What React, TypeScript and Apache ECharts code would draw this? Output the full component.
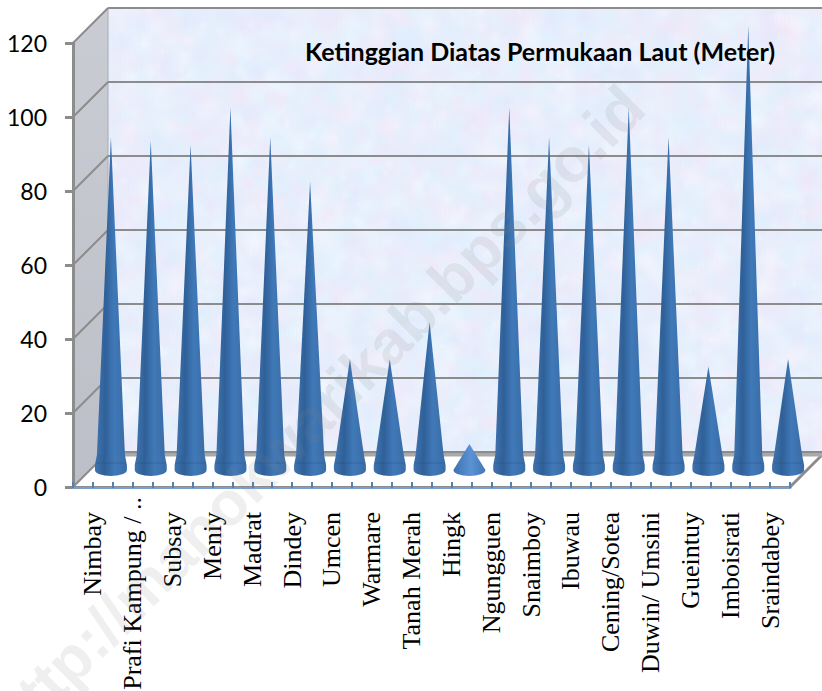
import React, { useEffect, useRef } from "react";
import * as echarts from "echarts";

const categories = ["Nimbay", "Prafi Kampung / ..", "Subsay", "Meniy", "Madrat", "Dindey", "Umcen", "Warmare", "Tanah Merah", "Hingk", "Ngungguen", "Snaimboy", "Ibuwau", "Cening/Sotea", "Duwin/ Umsini", "Gueintuy", "Imboisrati", "Sraindabey"];
const heights = [90, 89, 88, 98, 90, 78, 30, 30, 40, 7, 98, 90, 88, 98, 90, 28, 120, 30];
const yTicks = [0, 20, 40, 60, 80, 100, 120];
const titleText = "Ketinggian Diatas Permukaan Laut (Meter)";
const watermark = "http://manokwarikab.bps.go.id";

const DEPTH = 35;

function makeTexture(w: number, h: number): string {
  const c = document.createElement("canvas");
  c.width = w; c.height = h;
  const g = c.getContext("2d")!;
  g.fillStyle = "#e8f0fc";
  g.fillRect(0, 0, w, h);
  let s = 12345;
  const r = () => { s = (s * 1103515245 + 12345) & 0x7fffffff; return s / 0x7fffffff; };
  const cols = ["248,228,246", "218,244,252", "248,251,255", "232,228,250", "220,234,250"];
  for (let i = 0; i < 5000; i++) {
    const x = r() * w, y = r() * h, rad = 3 + r() * 15;
    const col = cols[Math.floor(r() * cols.length)];
    const gr = g.createRadialGradient(x, y, 0, x, y, rad);
    gr.addColorStop(0, `rgba(${col},0.3)`);
    gr.addColorStop(1, `rgba(${col},0)`);
    g.fillStyle = gr;
    g.fillRect(x - rad, y - rad, rad * 2, rad * 2);
  }
  return c.toDataURL("image/png");
}

export default function App() {
  const ref = useRef<HTMLDivElement>(null);
  useEffect(() => {
    const chart = echarts.init(ref.current!, undefined, { renderer: "svg" });
    const texture = makeTexture(717, 444);
    const coneGradient = {
      type: "linear", x: 0, y: 0, x2: 1, y2: 0,
      colorStops: [
        { offset: 0, color: "#3f72ad" },
        { offset: 0.3, color: "#2f6098" },
        { offset: 0.62, color: "#4079b8" },
        { offset: 1, color: "#3a6ca6" },
      ],
    };
    const lightGradient = {
      type: "linear", x: 0, y: 0, x2: 1, y2: 0,
      colorStops: [
        { offset: 0, color: "#3e72b0" },
        { offset: 0.55, color: "#5a92d4" },
        { offset: 1, color: "#4477b5" },
      ],
    };
    chart.setOption({
      animation: false,
      backgroundColor: "#ffffff",
      title: {
        text: titleText, left: 300, top: 33,
        textStyle: { fontFamily: "Lato", fontWeight: "bold", fontSize: 25, color: "#000" },
      },
      grid: { left: 73, right: 32, top: 43, bottom: 204, outerBoundsMode: "none" },
      xAxis: [
        {
          type: "category",
          data: categories.map((c) => (c.endsWith("..") ? { value: c, textStyle: { padding: [0, -15, 0, 0] } } : c)),
          position: "bottom",
          axisLine: { lineStyle: { color: "#8c8c8c", width: 3 } },
          axisTick: { show: false },
          axisLabel: {
            interval: 0, rotate: 90, margin: 25, fontFamily: "Liberation Serif", fontSize: 26, color: "#000",
            hideOverlap: false,
          },
          splitLine: { show: false },
          z: 3,
        },
        {
          type: "value", min: 0, max: 36, interval: 1, position: "bottom", offset: 1,
          axisLine: { show: true, lineStyle: { color: "#7aa0d0", width: 2 } },
          axisTick: { show: true, inside: true, length: 6, lineStyle: { color: "#4f81bd", width: 2 } },
          axisLabel: { show: false },
          splitLine: { show: false },
          z: 4,
        },
      ],
      yAxis: {
        type: "value", min: 0, max: 120, interval: 20,
        axisLine: { show: true, lineStyle: { color: "#8c8c8c", width: 3 } },
        axisTick: { show: true, length: 8, lineStyle: { color: "#8c8c8c", width: 3 } },
        axisLabel: { margin: 26, fontFamily: "Lato", fontSize: 23, color: "#000" },
        splitLine: { show: false },
      },
      series: [
        {
          type: "custom", name: "walls", z: 0, silent: true, clip: false,
          coordinateSystem: "cartesian2d", data: [0],
          renderItem: (params: any) => {
            const { x, y, width, height } = params.coordSys;
            const l = x, r = x + width, t = y, b = y + height;
            return {
              type: "group",
              children: [
                { type: "polygon", shape: { points: [[l, t], [l + DEPTH, t - DEPTH], [l + DEPTH, b - DEPTH], [l, b]] },
                  style: { fill: { type: "linear", x: 0, y: 0, x2: 0, y2: 1, colorStops: [{ offset: 0, color: "#c9ccd3" }, { offset: 1, color: "#bcbfc7" }] } } },
                { type: "image", style: { image: texture, x: l + DEPTH, y: t - DEPTH, width, height } },
                { type: "polygon", shape: { points: [[l, b], [l + DEPTH, b - DEPTH], [r + DEPTH, b - DEPTH], [r, b]] }, style: { fill: "#ffffff" } },
                { type: "line", shape: { x1: r, y1: b, x2: r + DEPTH, y2: b - DEPTH }, style: { stroke: "#8c8c8c", lineWidth: 3 } },
                { type: "line", shape: { x1: l + DEPTH, y1: t - DEPTH, x2: l + DEPTH, y2: b - DEPTH }, style: { stroke: "#a8acb4", lineWidth: 1 } },
                { type: "line", shape: { x1: l + DEPTH, y1: b - DEPTH + 2, x2: r + DEPTH, y2: b - DEPTH + 2 }, style: { stroke: "#a9a9a9", lineWidth: 5 } },
              ],
            };
          },
        },
        {
          type: "custom", name: "gridlines", z: 1, silent: true, clip: false,
          coordinateSystem: "cartesian2d", data: yTicks.map((t) => [0, t]),
          encode: { x: 0, y: 1 },
          renderItem: (params: any, api: any) => {
            const { x, width } = params.coordSys;
            const yy = api.coord([0, api.value(1)])[1];
            const s = { stroke: "#8c8c8c", lineWidth: 2 };
            return {
              type: "group",
              children: [
                { type: "line", shape: { x1: x, y1: yy, x2: x + DEPTH, y2: yy - DEPTH }, style: s },
                { type: "line", shape: { x1: x + DEPTH, y1: yy - DEPTH, x2: x + width + DEPTH, y2: yy - DEPTH }, style: s },
              ],
            };
          },
        },
        {
          type: "custom", name: "cones", z: 2, clip: false,
          coordinateSystem: "cartesian2d",
          data: heights.map((h, i) => [i, h]),
          encode: { x: 0, y: 1 },
          renderItem: (_params: any, api: any) => {
            const base = api.coord([api.value(0), 0]);
            const tip = api.coord([api.value(0), api.value(1)]);
            const cx = base[0] + 18;
            const by = base[1] - 17;
            const ty = tip[1] - 17;
            const rx = 16, ry = 6, neck = 14;
            if (by - ty < 60) {
              const d = `M${cx},${ty} L${cx + rx},${by} A${rx},${ry} 0 0 1 ${cx - rx},${by} Z`;
              return { type: "path", shape: { pathData: d, layout: "cover", x: cx - rx, y: ty, width: rx * 2, height: by + ry - ty }, style: { fill: lightGradient } };
            }
            const sy = by - 15;
            const cone = { type: "polygon", shape: { points: [[cx, ty], [cx + neck, sy], [cx - neck, sy]] }, style: { fill: coneGradient } };
            const sk = `M${cx - neck},${sy} L${cx - rx},${by - 5} L${cx - rx},${by} A${rx},${ry} 0 0 0 ${cx + rx},${by} L${cx + rx},${by - 5} L${cx + neck},${sy} Z`;
            const skirt = { type: "path", shape: { pathData: sk, layout: "cover", x: cx - rx, y: sy, width: rx * 2, height: by + ry - sy }, style: { fill: coneGradient } };
            const band = { type: "line", shape: { x1: cx - rx + 1, y1: by - 7, x2: cx + rx - 1, y2: by - 7 }, style: { stroke: "rgba(35,75,125,0.35)", lineWidth: 1 } };
            return { type: "group", children: [cone, skirt, band] };
          },
        },
      ],
      graphic: [
        {
          type: "text", x: 317, y: 413, rotation: (45 * Math.PI) / 180, z: 50, silent: true,
          style: { text: watermark, fontFamily: "Liberation Sans", fontWeight: "bold", fontSize: 62, fill: "rgba(130,130,130,0.13)", align: "center", verticalAlign: "middle" },
        },
      ],
    });
    return () => chart.dispose();
  }, []);
  return <div ref={ref} style={{ position: "absolute", left: 0, top: 0, width: 822, height: 691, overflow: "hidden" }} />;
}
